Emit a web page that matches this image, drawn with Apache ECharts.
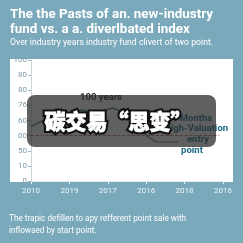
<!DOCTYPE html>
<html><head><meta charset="utf-8">
<script src="https://cdn.jsdelivr.net/npm/echarts@6/dist/echarts.min.js"></script>
<style>html,body{margin:0;padding:0;background:#7aa9bb;}#c{width:243px;height:243px;}</style>
</head><body><div id="c"></div>
<script>
var xLabels = ["2010","2019","2017","2016","2018","2016"];
var yLabels = ["0","10","50","00","60","76","80","80","100"];
var fundX = [0, 0.23, 0.49, 0.76, 1.0, 1.35, 1.54, 1.8, 2.14, 2.37, 2.58, 2.84, 3.02];
var fundY = [3.6, 3.9, 4.24, 4.4, 4.5, 4.7, 4.5, 4.6, 4.83, 4.57, 4.04, 3.5, 2.98];
var entryX = [3.02, 3.26, 3.83];
var entryY = [2.98, 2.58, 2.58];
var refLevel = 3;

function pairs(xs, ys){ return xs.map(function(x,i){return [x, ys[i]];}); }

var chart = echarts.init(document.getElementById('c'), null, {renderer:'canvas'});
var ff = 'Roboto, "Open Sans", "Noto Sans", sans-serif';
var cjkFont = '900 21px "Noto Sans CJK SC", sans-serif';
chart.setOption({
  backgroundColor: '#7aa9bb',
  animation: false,
  grid: {left: 31, right: 20, top: 60, bottom: 62},
  xAxis: {
    type: 'value', min: 0, max: 5, interval: 1,
    axisLine: {show: true, lineStyle: {color: '#dfe8ec', width: 1}},
    axisTick: {show: true, length: 3, lineStyle: {color: '#e6eef2'}},
    splitLine: {show: false},
    axisLabel: {color: '#eef4f7', fontSize: 8, fontFamily: ff, margin: 6,
      formatter: function(v){ return xLabels[Math.round(v)] || ''; }}
  },
  yAxis: {
    type: 'value', min: 0, max: 8, interval: 1,
    axisLine: {show: true, lineStyle: {color: '#c9d6dc', width: 1}},
    axisTick: {show: true, length: 3, lineStyle: {color: '#9bb3bf'}},
    splitLine: {show: false},
    axisLabel: {color: '#7f9cab', fontSize: 8, fontFamily: ff, margin: 4,
      formatter: function(v){ return yLabels[Math.round(v)] || ''; }}
  },
  graphic: [
    {type:'rect', z:-10, silent:true, shape:{x:10,y:59,width:223,height:123}, style:{fill:'#ffffff'}},
    {type:'text', left:10, top:7, style:{text:'The the Pasts of an. new-industry\nfund vs. a a. diverlbated index', fill:'#ffffff', font:'bold 13.4px Roboto, "Open Sans", sans-serif', lineHeight:15}},
    {type:'text', left:10, top:38, style:{text:'Over industry years industry fund clivert of two point.', fill:'#ffffff', font:'8.7px Roboto, "Open Sans", sans-serif'}},
    {type:'text', left:9, top:213, style:{text:'The trapic defillen to apy refferent point sale with\ninflowaed by start point.', fill:'#ffffff', font:'8.2px Roboto, "Open Sans", sans-serif', lineHeight:12}},
    {type:'text', x:101, y:98, z:50, style:{text:'100 years', fill:'#1e2a30', font:'bold 9.5px Roboto, "Open Sans", sans-serif', align:'center', verticalAlign:'middle'}},
    {type:'text', x:196, y:119, z:50, style:{text:'Months', fill:'#1d6a86', font:'bold 9.5px Roboto, "Open Sans", sans-serif', align:'center', verticalAlign:'middle'}},
    {type:'text', x:196, y:129, z:50, style:{text:'High-Valuation', fill:'#1d6a86', font:'bold 9.5px Roboto, "Open Sans", sans-serif', align:'center', verticalAlign:'middle'}},
    {type:'text', x:198, y:140, z:50, style:{text:'entry', fill:'#1d6a86', font:'bold 9.5px Roboto, "Open Sans", sans-serif', align:'center', verticalAlign:'middle'}},
    {type:'text', x:192, y:151, z:50, style:{text:'point', fill:'#1d6a86', font:'bold 9.5px Roboto, "Open Sans", sans-serif', align:'center', verticalAlign:'middle'}},
    {type:'rect', z:100, shape:{x:27,y:95,width:189,height:52,r:8}, style:{fill:'rgba(40,40,40,0.74)'}},
    {type:'text', x:118, y:121, z:101, style:{text:'碳交易“思变”', fill:'#111111', stroke:'#111111', lineWidth:5, font:cjkFont, align:'center', verticalAlign:'middle'}},
    {type:'text', x:118, y:121, z:102, style:{text:'碳交易“思变”', fill:'#ffffff', stroke:'#ffffff', lineWidth:0.8, font:cjkFont, align:'center', verticalAlign:'middle'}}
  ],
  series: [
    {type:'line', data: pairs(fundX, fundY), symbol:'none', lineStyle:{color:'#1d5b70', width:1.2},
     markLine:{silent:true, symbol:'none', label:{show:false}, lineStyle:{color:'#b5474a', type:'dashed', width:0.8}, data:[[{coord:[0, refLevel]},{coord:[4.9, refLevel]}]]}},
    {type:'line', data: pairs(entryX, entryY), symbol:'none', lineStyle:{color:'#667a5f', width:1.1}}
  ]
});
</script></body></html>
